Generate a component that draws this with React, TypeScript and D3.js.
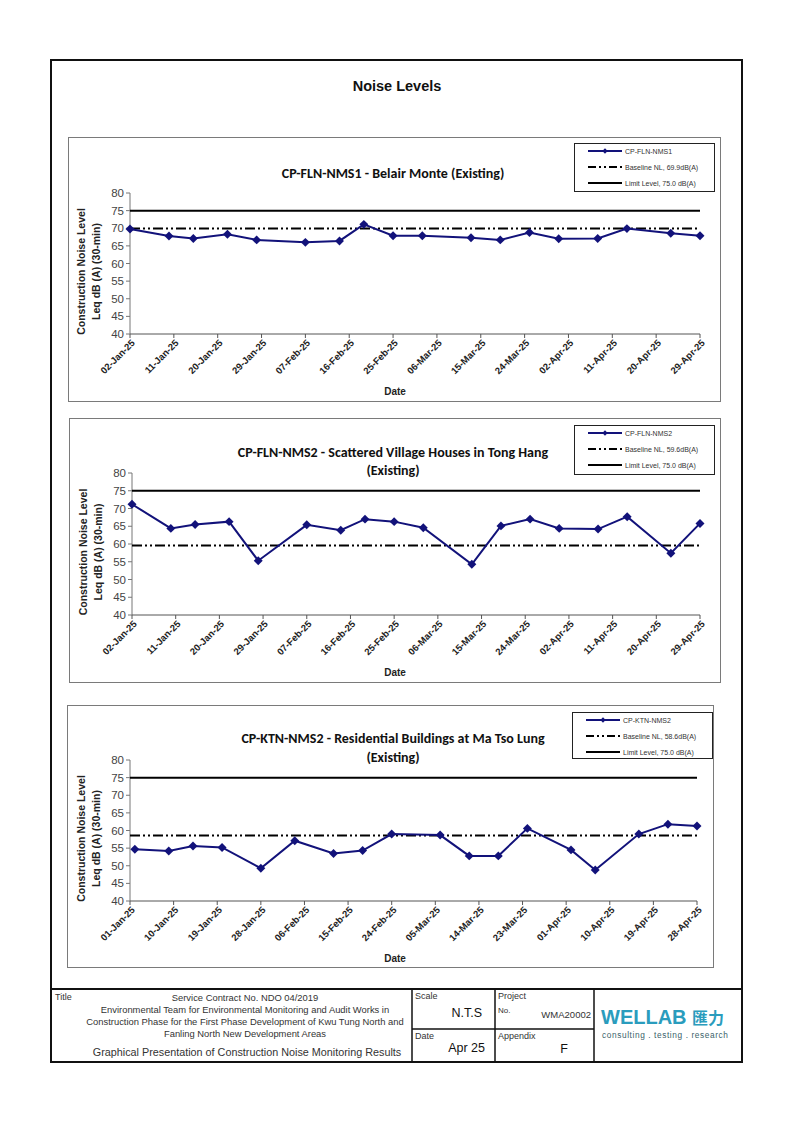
import React from 'react';
import * as d3 from 'd3';

// ---------- DATA ----------
const yTicks = [40, 45, 50, 55, 60, 65, 70, 75, 80];

const ticksFLN = ["02-Jan-25", "11-Jan-25", "20-Jan-25", "29-Jan-25", "07-Feb-25", "16-Feb-25", "25-Feb-25", "06-Mar-25", "15-Mar-25", "24-Mar-25", "02-Apr-25", "11-Apr-25", "20-Apr-25", "29-Apr-25"];
const ticksKTN = ["01-Jan-25", "10-Jan-25", "19-Jan-25", "28-Jan-25", "06-Feb-25", "15-Feb-25", "24-Feb-25", "05-Mar-25", "14-Mar-25", "23-Mar-25", "01-Apr-25", "10-Apr-25", "19-Apr-25", "28-Apr-25"];

const datesFLN = ["2025-01-02", "2025-01-10", "2025-01-15", "2025-01-22", "2025-01-28", "2025-02-07", "2025-02-14", "2025-02-19", "2025-02-25", "2025-03-03", "2025-03-13", "2025-03-19", "2025-03-25", "2025-03-31", "2025-04-08", "2025-04-14", "2025-04-23", "2025-04-29"];
const valuesNMS1 = [69.8, 67.8, 67.1, 68.3, 66.7, 66.0, 66.4, 71.1, 67.9, 67.9, 67.3, 66.7, 68.8, 67.0, 67.1, 69.9, 68.6, 67.9];
const valuesNMS2 = [71.2, 64.4, 65.5, 66.3, 55.3, 65.4, 63.9, 67.0, 66.3, 64.6, 54.3, 65.1, 67.0, 64.4, 64.2, 67.7, 57.4, 65.8];

const datesKTN = ["2025-01-02", "2025-01-09", "2025-01-14", "2025-01-20", "2025-01-28", "2025-02-04", "2025-02-12", "2025-02-18", "2025-02-24", "2025-03-06", "2025-03-12", "2025-03-18", "2025-03-24", "2025-04-02", "2025-04-07", "2025-04-16", "2025-04-22", "2025-04-28"];
const valuesKTN2 = [54.7, 54.2, 55.6, 55.2, 49.3, 57.1, 53.5, 54.3, 59.0, 58.7, 52.8, 52.8, 60.6, 54.5, 48.8, 59.0, 61.8, 61.3];

const baselines = [69.9, 59.6, 58.6];
const limitLevel = 75.0;
const seriesNames = ["CP-FLN-NMS1", "CP-FLN-NMS2", "CP-KTN-NMS2"];
const chartTitles = [
  ["CP-FLN-NMS1 - Belair Monte (Existing)"],
  ["CP-FLN-NMS2 - Scattered Village Houses in Tong Hang", "(Existing)"],
  ["CP-KTN-NMS2 - Residential Buildings at Ma Tso Lung", "(Existing)"],
];
const baselineLabels = ["Baseline NL,  69.9dB(A)", "Baseline NL,  59.6dB(A)", "Baseline NL,  58.6dB(A)"];
const limitLabel = "Limit Level, 75.0 dB(A)";

// ---------- LAYOUT ----------
const parseTick = d3.timeParse("%d-%b-%y");
const parseDate = d3.timeParse("%Y-%m-%d");

const NAVY = "#12127a";
const ARIAL = "'Liberation Sans', Arial, sans-serif";
const CALIBRI = "Carlito, Lato, 'Open Sans', sans-serif";

type Cfg = {
  box: [number, number, number, number];
  plot: { l: number; r: number; t: number; b: number };
  titleY: number[];
  legend: [number, number, number, number];
  ticks: string[];
  dates: string[];
  values: number[];
  baseline: number;
  baselineLabel: string;
  name: string;
  title: string[];
};

const charts: Cfg[] = [
  {
    box: [68, 137, 652, 264], plot: { l: 130, r: 700, t: 193, b: 334 }, titleY: [173],
    legend: [574, 143, 140, 48], ticks: ticksFLN, dates: datesFLN, values: valuesNMS1,
    baseline: baselines[0], baselineLabel: baselineLabels[0], name: seriesNames[0], title: chartTitles[0],
  },
  {
    box: [69, 418, 651, 264], plot: { l: 132, r: 700, t: 473, b: 615 }, titleY: [452, 470],
    legend: [574, 425, 140, 49], ticks: ticksFLN, dates: datesFLN, values: valuesNMS2,
    baseline: baselines[1], baselineLabel: baselineLabels[1], name: seriesNames[1], title: chartTitles[1],
  },
  {
    box: [67, 705, 646, 262], plot: { l: 130, r: 697, t: 760, b: 901 }, titleY: [738, 757],
    legend: [572, 712, 140, 46], ticks: ticksKTN, dates: datesKTN, values: valuesKTN2,
    baseline: baselines[2], baselineLabel: baselineLabels[2], name: seriesNames[2], title: chartTitles[2],
  },
];

const DASH_BASE = "10 3 2 3 2 3";

function Chart({ c }: { c: Cfg }) {
  const { l, r, t, b } = c.plot;
  const x = d3.scaleTime()
    .domain([parseTick(c.ticks[0]) as Date, parseTick(c.ticks[c.ticks.length - 1]) as Date])
    .range([l, r]);
  const y = d3.scaleLinear().domain([40, 80]).range([b, t]);
  const pts = c.dates.map((d, i) => ({ date: parseDate(d) as Date, v: c.values[i] }));
  const line = d3.line<{ date: Date; v: number }>().x(d => x(d.date)).y(d => y(d.v));
  const diamond = d3.symbol().type(d3.symbolSquare).size(40)();
  const [bx, by, bw, bh] = c.box;
  const [lx, ly, lw, lh] = c.legend;
  const cy = (t + b) / 2 + 8;
  const x0 = x.range()[0], x1 = x.range()[1];
  return (
    <g>
      <rect x={bx + 0.5} y={by + 0.5} width={bw} height={bh} fill="#fff" stroke="#7a7a7a" strokeWidth={1} />
      {c.title.map((s, i) => (
        <text key={i} x={393} y={c.titleY[i]} textAnchor="middle" dominantBaseline="central"
          fontFamily={CALIBRI} fontWeight="bold" fontSize={14} fill="#111">{s}</text>
      ))}
      {/* y axis */}
      <line x1={l} x2={l} y1={t} y2={b} stroke="#777" strokeWidth={1} />
      {yTicks.map(v => (
        <g key={v}>
          <line x1={l - 4} x2={l} y1={y(v)} y2={y(v)} stroke="#777" />
          <text x={l - 6} y={y(v)} textAnchor="end" dominantBaseline="central"
            fontFamily={ARIAL} fontSize={11.5} fill="#444">{v}</text>
        </g>
      ))}
      {/* x axis */}
      <line x1={l} x2={r} y1={b} y2={b} stroke="#555" strokeWidth={1} />
      {c.ticks.map(s => {
        const px = x(parseTick(s) as Date);
        return (
          <g key={s}>
            <line x1={px} x2={px} y1={b} y2={b + 4} stroke="#555" />
            <text transform={`translate(${px + 3},${b + 7}) rotate(-45)`} textAnchor="end"
              dominantBaseline="central" fontFamily={ARIAL} fontWeight="bold" fontSize={9.5} fill="#222">{s}</text>
          </g>
        );
      })}
      <text x={395} y={b + 57} textAnchor="middle" dominantBaseline="central" fontFamily={ARIAL}
        fontWeight="bold" fontSize={10} fill="#222">Date</text>
      {/* y axis title */}
      <text transform={`translate(${l - 49},${cy}) rotate(-90)`} textAnchor="middle" dominantBaseline="central"
        fontFamily={ARIAL} fontWeight="bold" fontSize={10.5} fill="#222">Construction Noise Level</text>
      <text transform={`translate(${l - 34},${cy}) rotate(-90)`} textAnchor="middle" dominantBaseline="central"
        fontFamily={ARIAL} fontWeight="bold" fontSize={10.5} fill="#222">Leq dB (A) (30-min)</text>
      {/* reference lines */}
      <line x1={x0} x2={x1} y1={y(limitLevel)} y2={y(limitLevel)} stroke="#000" strokeWidth={2} />
      <line x1={x0} x2={x1} y1={y(c.baseline)} y2={y(c.baseline)} stroke="#000" strokeWidth={2} strokeDasharray={DASH_BASE} />
      {/* series */}
      <path d={line(pts) || ""} fill="none" stroke={NAVY} strokeWidth={2} />
      {pts.map((p, i) => (
        <path key={i} d={diamond} transform={`translate(${x(p.date)},${y(p.v)}) rotate(45)`} fill={NAVY} />
      ))}
      {/* legend */}
      <rect x={lx + 0.5} y={ly + 0.5} width={lw} height={lh} fill="#fff" stroke="#222" strokeWidth={1} />
      {[0, 1, 2].map(i => {
        const yy = ly + 8 + i * 16;
        return (
          <g key={i}>
            {i === 0 && <>
              <line x1={lx + 14} x2={lx + 48} y1={yy} y2={yy} stroke={NAVY} strokeWidth={2} />
              <path d={d3.symbol().type(d3.symbolSquare).size(14)()} transform={`translate(${lx + 31},${yy}) rotate(45)`} fill={NAVY} />
            </>}
            {i === 1 && <line x1={lx + 14} x2={lx + 48} y1={yy} y2={yy} stroke="#000" strokeWidth={2} strokeDasharray="8 3 2 3 2 3" />}
            {i === 2 && <line x1={lx + 14} x2={lx + 48} y1={yy} y2={yy} stroke="#000" strokeWidth={2} />}
            <text x={lx + 51} y={yy} dominantBaseline="central" fontFamily={ARIAL} fontSize={7} fill="#333">
              {i === 0 ? c.name : i === 1 ? c.baselineLabel : limitLabel}
            </text>
          </g>
        );
      })}
    </g>
  );
}

const footerTitleLines = [
  "Service Contract No. NDO 04/2019",
  "Environmental Team for Environmental Monitoring and Audit Works in",
  "Construction Phase for the First Phase Development of Kwu Tung North and",
  "Fanling North New Development Areas",
];
const footerSubtitle = "Graphical Presentation of Construction Noise Monitoring Results";

export default function App() {
  return (
    <svg width={794} height={1123} style={{ position: 'absolute', left: 0, top: 0, background: '#fff' }}
      xmlns="http://www.w3.org/2000/svg">
      <rect x={0} y={0} width={794} height={1123} fill="#fff" />
      <rect x={51} y={60} width={691} height={1002} fill="none" stroke="#111" strokeWidth={2} />
      <text x={397} y={86} textAnchor="middle" dominantBaseline="central" fontFamily={ARIAL}
        fontWeight="bold" fontSize={14.5} fill="#111">Noise Levels</text>
      {charts.map((c, i) => <Chart key={i} c={c} />)}
      {/* footer */}
      <line x1={51} x2={742} y1={989} y2={989} stroke="#111" strokeWidth={2} />
      <line x1={412} x2={412} y1={989} y2={1062} stroke="#111" strokeWidth={1.5} />
      <line x1={495} x2={495} y1={989} y2={1062} stroke="#111" strokeWidth={1.5} />
      <line x1={594} x2={594} y1={989} y2={1062} stroke="#111" strokeWidth={1.5} />
      <line x1={412} x2={594} y1={1029} y2={1029} stroke="#111" strokeWidth={1.5} />
      <text x={55} y={997} dominantBaseline="central" fontFamily={ARIAL} fontSize={9} fill="#333">Title</text>
      {footerTitleLines.map((s, i) => (
        <text key={i} x={245} y={997 + i * 12.3} textAnchor="middle" dominantBaseline="central"
          fontFamily={ARIAL} fontSize={9.4} fill="#333">{s}</text>
      ))}
      <text x={247} y={1052} textAnchor="middle" dominantBaseline="central" fontFamily={ARIAL}
        fontSize={10.8} fill="#333">{footerSubtitle}</text>
      <text x={415} y={996} dominantBaseline="central" fontFamily={ARIAL} fontSize={9} fill="#333">Scale</text>
      <text x={482} y={1013} textAnchor="end" dominantBaseline="central" fontFamily={ARIAL} fontSize={12.5} fill="#111">N.T.S</text>
      <text x={415} y={1036} dominantBaseline="central" fontFamily={ARIAL} fontSize={9} fill="#333">Date</text>
      <text x={485} y={1048} textAnchor="end" dominantBaseline="central" fontFamily={ARIAL} fontSize={12.5} fill="#111">Apr 25</text>
      <text x={498} y={996} dominantBaseline="central" fontFamily={ARIAL} fontSize={9} fill="#333">Project</text>
      <text x={498} y={1010} dominantBaseline="central" fontFamily={ARIAL} fontSize={8} fill="#333">No.</text>
      <text x={591} y={1014} textAnchor="end" dominantBaseline="central" fontFamily={ARIAL} fontSize={9.5} fill="#333">WMA20002</text>
      <text x={498} y={1036} dominantBaseline="central" fontFamily={ARIAL} fontSize={9} fill="#333">Appendix</text>
      <text x={564} y={1049} textAnchor="middle" dominantBaseline="central" fontFamily={ARIAL} fontSize={12.5} fill="#111">F</text>
      {/* logo */}
      <text x={601} y={1017} dominantBaseline="central" fontFamily={ARIAL} fontWeight="bold" fontSize={20} fill="#2a9cbd">WELLAB</text>
      <text x={692} y={1017} dominantBaseline="central" fontFamily="'Noto Sans CJK TC', 'Noto Sans CJK SC', sans-serif" fontWeight="bold" fontSize={16} fill="#2a9cbd">匯力</text>
      <text x={602} y={1035} dominantBaseline="central" fontFamily={ARIAL} fontSize={8.3} letterSpacing={0.6} fill="#3a5f6a">consulting . testing . research</text>
    </svg>
  );
}
